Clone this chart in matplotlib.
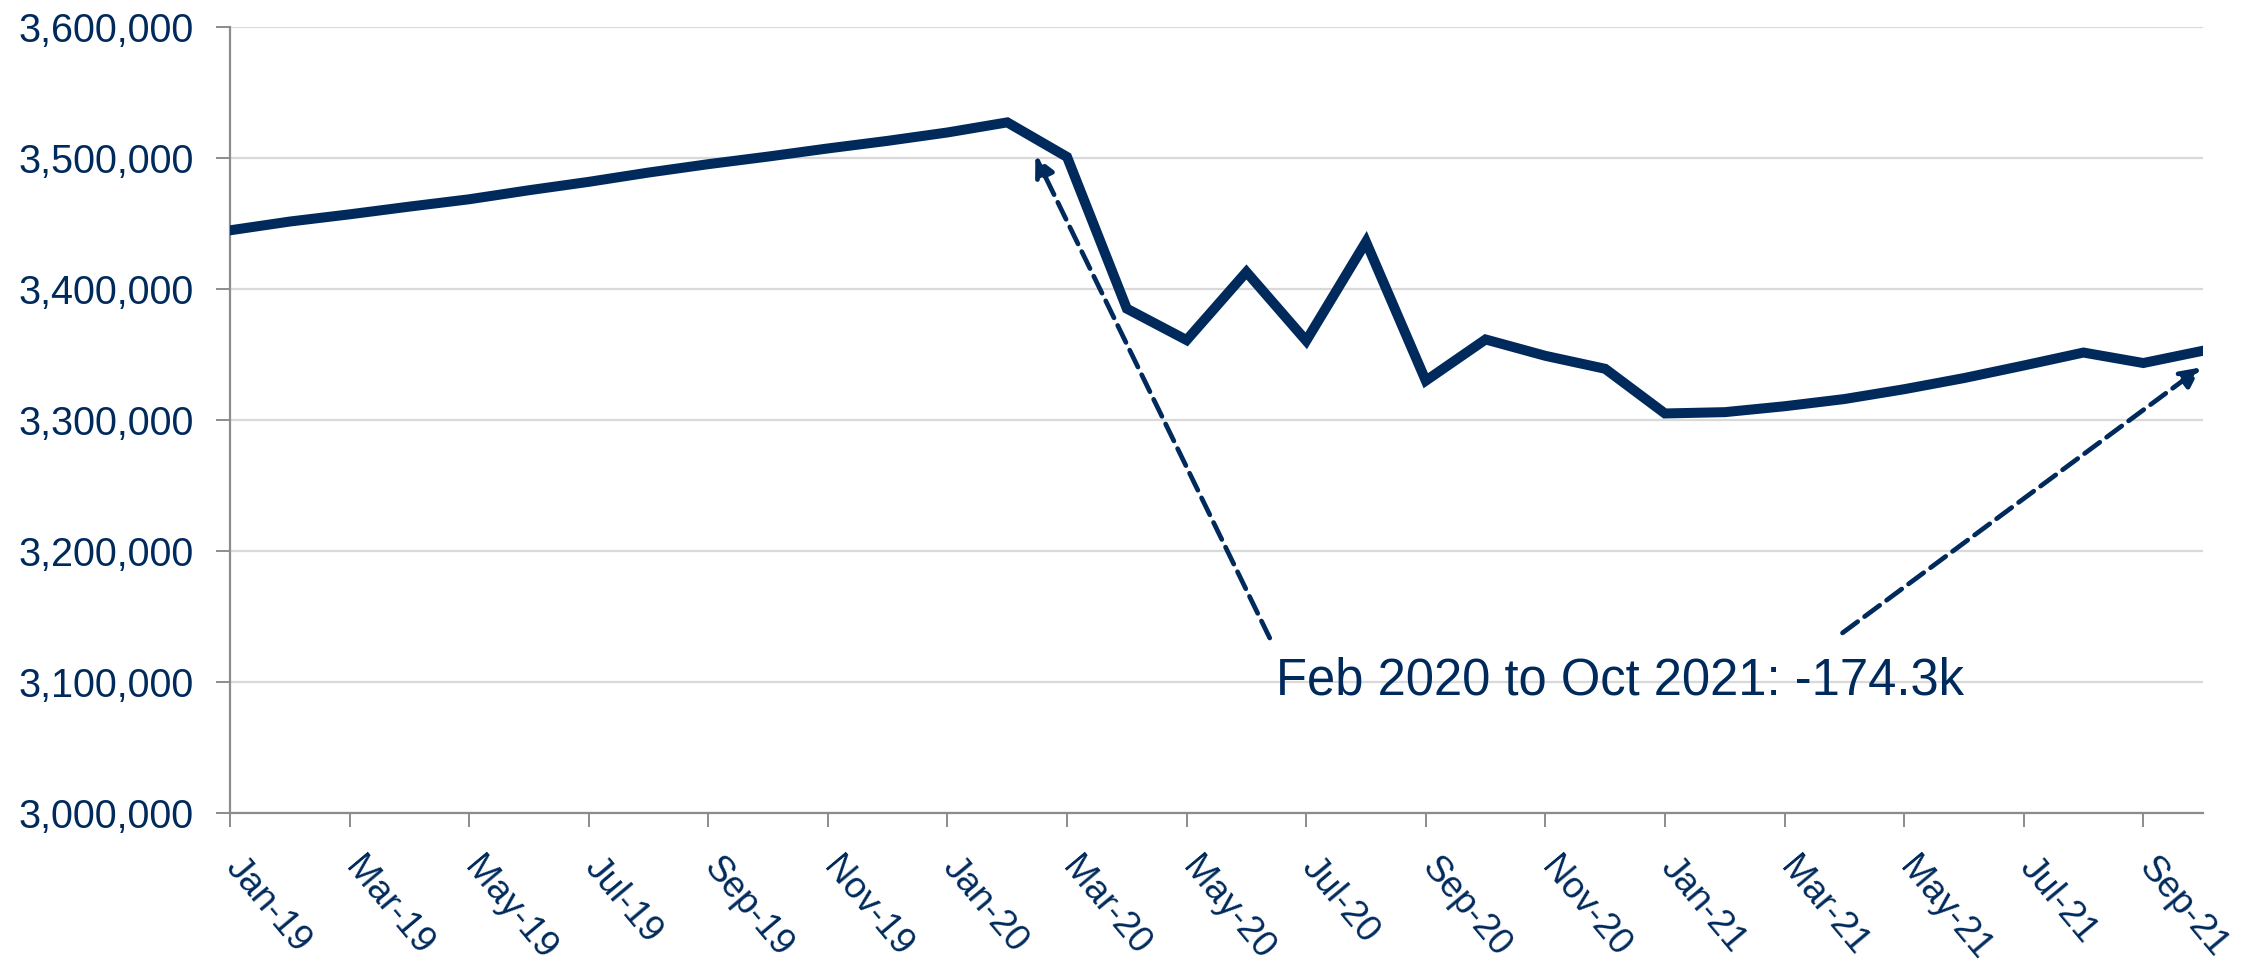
import matplotlib.pyplot as plt
import matplotlib.transforms as mtransforms
import numpy as np

months = ['Jan-19', 'Feb-19', 'Mar-19', 'Apr-19', 'May-19', 'Jun-19', 'Jul-19', 'Aug-19',
          'Sep-19', 'Oct-19', 'Nov-19', 'Dec-19', 'Jan-20', 'Feb-20', 'Mar-20', 'Apr-20',
          'May-20', 'Jun-20', 'Jul-20', 'Aug-20', 'Sep-20', 'Oct-20', 'Nov-20', 'Dec-20',
          'Jan-21', 'Feb-21', 'Mar-21', 'Apr-21', 'May-21', 'Jun-21', 'Jul-21', 'Aug-21',
          'Sep-21', 'Oct-21']
employment = [3444800, 3451500, 3457000, 3462900, 3468500, 3475400, 3481800, 3488900,
              3495300, 3501100, 3507300, 3513100, 3519500, 3527200, 3500800, 3385000,
              3361000, 3413000, 3360500, 3436000, 3330000, 3361500, 3349000, 3339100,
              3305000, 3306000, 3310500, 3316000, 3323500, 3332000, 3341600, 3351500,
              3343500, 3352900]
yticks = [3000000, 3100000, 3200000, 3300000, 3400000, 3500000, 3600000]
note = 'Feb 2020 to Oct 2021: -174.3k'

navy = '#002A5C'

fig = plt.figure(figsize=(22.57, 9.68), dpi=100)
ax = fig.add_axes([0.1019, 0.1601, 0.8742, 0.8120])

x = np.arange(len(months))
ax.plot(x, employment, color=navy, lw=7.2, solid_joinstyle='miter', zorder=3)

ax.set_xlim(0, len(months) - 1)
ax.set_ylim(yticks[0], yticks[-1])
ax.set_yticks(yticks)
ax.set_yticklabels([f'{v:,}' for v in yticks], fontsize=28.5, color=navy, family='Liberation Sans')
ax.set_xticks(x[::2])

ax.grid(axis='y', color='#D9D9D9', lw=1.6)
ax.set_axisbelow(True)
for side in ['top', 'right']:
    ax.spines[side].set_visible(False)
for side in ['left', 'bottom']:
    ax.spines[side].set_color('#8C8C8C')
    ax.spines[side].set_linewidth(1.6)
ax.tick_params(axis='both', direction='out', length=10, width=1.4, color='#8C8C8C')
ax.tick_params(axis='y', pad=16)
ax.tick_params(axis='x', pad=17)

# month labels: slanted, nudged right of the tick like the original
ax.set_xticklabels(months[::2], fontsize=26.5, color=navy, family='Liberation Sans',
                   rotation=-50, ha='left', va='top', rotation_mode='anchor')
shift = mtransforms.ScaledTranslation(0.15, 0, fig.dpi_scale_trans)
for lbl in ax.get_xticklabels():
    lbl.set_transform(lbl.get_transform() + shift)

arrow = dict(arrowstyle='-|>', color=navy, lw=3.4, linestyle=(0, (4, 1.8)),
             mutation_scale=30, shrinkA=0, shrinkB=0)
ax.annotate('', xy=(13.47, 3501400), xytext=(17.39, 3133600), arrowprops=arrow)
ax.annotate('', xy=(32.96, 3340100), xytext=(26.97, 3137500), arrowprops=arrow)
ax.text(17.5, 3090800, note, fontsize=36.5, color=navy, family='Liberation Sans',
        ha='left', va='baseline')

plt.savefig('out.png', dpi=100)
plt.close()
